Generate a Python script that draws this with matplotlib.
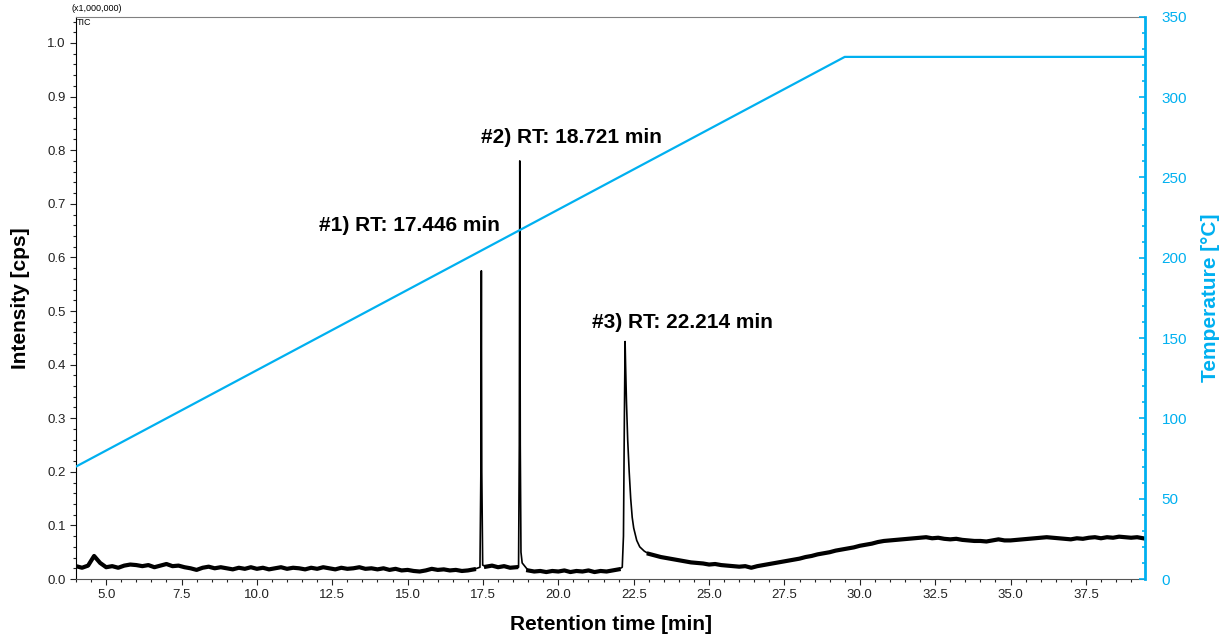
import numpy as np
import matplotlib.pyplot as plt

plt.rcParams['font.family'] = ['Liberation Sans', 'DejaVu Sans']

# TIC baseline (x1,000,000 cps), one reading every 0.2 min starting at 4.0 min
base_start = 4.0
base_step = 0.2
baseline = [
    .024, .021, .025, .043, .030,                      # 4.0 - 4.8
    .022, .024, .021, .025, .027, .026, .024, .026, .022, .025,  # 5.0 - 6.8
    .028, .024, .025, .022, .020, .017, .021, .023, .020, .022,  # 7.0 - 8.8
    .020, .018, .021, .019, .022, .019, .021, .018, .020, .022,  # 9.0 - 10.8
    .019, .021, .020, .018, .021, .019, .022, .020, .018, .021,  # 11.0 - 12.8
    .019, .020, .022, .019, .020, .018, .020, .017, .019, .016,  # 13.0 - 14.8
    .017, .015, .014, .016, .019, .017, .018, .016, .017, .015,  # 15.0 - 16.8
    .016, .018, .019, .023, .025, .022, .024, .021, .022, .022,  # 17.0 - 18.8
    .016, .014, .015, .013, .015, .014, .016, .013, .015, .014,  # 19.0 - 20.8
    .016, .013, .015, .014, .016, .018, .020, .020, .020, .020,  # 21.0 - 22.8
    .047, .044, .041, .039, .037, .035, .033, .031, .030, .029,  # 23.0 - 24.8
    .027, .028, .026, .025, .024, .023, .024, .021, .024, .026,  # 25.0 - 26.8
    .028, .030, .032, .034, .036, .038, .041, .043, .046, .048,  # 27.0 - 28.8
    .050, .053, .055, .057, .059, .062, .064, .066, .069, .071,  # 29.0 - 30.8
    .072, .073, .074, .075, .076, .077, .078, .076, .077, .075,  # 31.0 - 32.8
    .074, .075, .073, .072, .071, .071, .070, .072, .074, .072,  # 33.0 - 34.8
    .072, .073, .074, .075, .076, .077, .078, .077, .076, .075,  # 35.0 - 36.8
    .074, .076, .075, .077, .078, .076, .078, .077, .079, .078,  # 37.0 - 38.8
    .077, .078, .076,                                  # 39.0 - 39.4
]

# peaks: (time, intensity)
peak1_t = [17.40, 17.43, 17.446, 17.46, 17.49]
peak1_y = [.022, .20, .575, .20, .026]
peak2_t = [18.68, 18.705, 18.721, 18.737, 18.76, 18.80]
peak2_y = [.022, .25, .78, .25, .05, .03]
peak3_t = [22.12, 22.16, 22.19, 22.214, 22.23, 22.26, 22.30, 22.35, 22.40,
           22.45, 22.50, 22.60, 22.70, 22.85]
peak3_y = [.022, .08, .30, .443, .40, .33, .26, .20, .15,
           .115, .095, .072, .060, .052]
peak_windows = [(17.35, 17.55), (18.65, 18.85), (22.1, 22.95)]

# oven program
temp_t = [4.0, 29.5, 39.46]
temp_c = [70, 325, 325]

labels = ["#1) RT: 17.446 min", "#2) RT: 18.721 min", "#3) RT: 22.214 min"]
label_pos = [(15.07, 0.660), (20.45, 0.823), (24.13, 0.479)]

base_t = base_start + base_step * np.arange(len(baseline))
base_y = np.array(baseline)
keep = np.ones(len(base_t), dtype=bool)
for lo, hi in peak_windows:
    keep &= ~((base_t > lo) & (base_t < hi))
rt = np.concatenate([base_t[keep], peak1_t, peak2_t, peak3_t])
tic = np.concatenate([base_y[keep], peak1_y, peak2_y, peak3_y])
order = np.argsort(rt)
rt, tic = rt[order], tic[order]

# noisy baseline drawn as a thicker band, gaps where the peaks are
band_y = np.where(keep, base_y, np.nan)

cyan = '#00B0F0'

fig = plt.figure(figsize=(12.28, 6.36), dpi=100)
ax = fig.add_axes([0.0619, 0.0896, 0.8705, 0.8841])
ax.plot(rt, tic, color='black', lw=1.2)
ax.plot(base_t, band_y, color='black', lw=3.0)
ax.set_xlim(4.0, 39.46)
ax.set_ylim(0, 1.049)
ax.set_xticks(np.arange(5, 39, 2.5))
ax.set_xticks(np.arange(4.0, 39.5, 0.5), minor=True)
ax.set_yticks(np.arange(0, 1.01, 0.1))
ax.set_yticks(np.arange(0, 1.05, 0.02), minor=True)
ax.set_xticklabels([f"{v:.1f}" for v in np.arange(5, 39, 2.5)])
ax.set_yticklabels([f"{v:.1f}" for v in np.arange(0, 1.01, 0.1)])
ax.tick_params(axis='both', which='major', labelsize=9.5, length=4, width=0.8,
               colors='#222222')
ax.tick_params(axis='both', which='minor', length=2.5, width=0.8, colors='#222222')
ax.spines['top'].set_color('#808080')
ax.spines['bottom'].set_color('#555555')
ax.spines['left'].set_color('black')
ax.spines['right'].set_visible(False)

ax.set_xlabel('Retention time [min]', fontsize=15, fontweight='bold', labelpad=10)
ax.set_ylabel('Intensity [cps]', fontsize=15, fontweight='bold', labelpad=12)

for txt, (x, y) in zip(labels, label_pos):
    ax.text(x, y, txt, fontsize=15, fontweight='bold', ha='center', va='center')

fig.text(0.0586, 0.9795, '(x1,000,000)', fontsize=6.5, ha='left', va='bottom')
fig.text(0.0625, 0.9715, 'TIC', fontsize=6.5, ha='left', va='top')

ax2 = ax.twinx()
ax2.plot(temp_t, temp_c, color=cyan, lw=1.6)
ax2.set_ylim(0, 350)
ax2.set_yticks(np.arange(0, 351, 50))
ax2.set_yticks(np.arange(0, 351, 10), minor=True)
ax2.tick_params(axis='y', which='major', direction='in', length=4, width=1.2,
                colors=cyan, labelsize=11, pad=12)
ax2.tick_params(axis='y', which='minor', direction='in', length=2.5, width=1.2,
                colors=cyan)
ax2.spines['right'].set_color(cyan)
ax2.spines['right'].set_linewidth(2)
for s in ['top', 'left', 'bottom']:
    ax2.spines[s].set_visible(False)
ax2.set_ylabel('Temperature [°C]', fontsize=15, fontweight='bold', color=cyan,
               labelpad=10)

fig.savefig('out.png', dpi=100)
